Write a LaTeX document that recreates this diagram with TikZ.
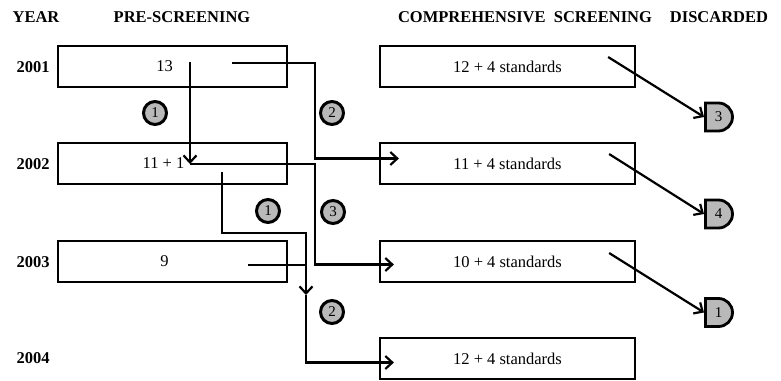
\documentclass[tikz,border=0pt]{standalone}
\usepackage{fontspec}
\setmainfont{Liberation Serif}
\usetikzlibrary{arrows.meta,shapes.misc,calc}
\begin{document}
\begin{tikzpicture}[x=1pt,y=-1pt,font=\fontsize{16.5}{19}\selectfont,
	box/.style={draw,line width=2.2pt,minimum width=229pt,minimum height=41pt,inner sep=0pt},
	cbox/.style={box,minimum width=255pt},
	head/.style={font=\fontsize{16.5}{19}\selectfont\bfseries},
	num/.style={circle,draw,line width=3pt,fill=gray!55,minimum size=23pt,inner sep=0pt,font=\fontsize{15}{15}\selectfont},
	bin/.style={rounded rectangle,rounded rectangle west arc=none,draw,line width=2.8pt,fill=gray!55,minimum width=27pt,minimum height=28pt,inner sep=0pt,font=\fontsize{15}{15}\selectfont},
	flow/.style={line width=2.2pt,-{Straight Barb[length=7pt,width=13pt]}},
	link/.style={line width=2.2pt}]
	\useasboundingbox (0,0) rectangle (781,380);
	% headings
	\node[head] (hy) at (36,17) {YEAR};
	\node[head] (hp) at (182,17) {PRE-SCREENING};
	\node[head] (hc) at (525,17) {COMPREHENSIVE\ \ SCREENING};
	\node[head] (hd) at (719,17) {DISCARDED};
	% years
	\node[head] (y1) at (33,67) {2001};
	\node[head] (y2) at (33,164) {2002};
	\node[head] (y3) at (33,262) {2003};
	\node[head] (y4) at (33,358) {2004};
	% pre-screening
	\node[box,label={[xshift=-8pt]center:13}] (p1) at (172.5,66.5) {};
	\node[box,label={[xshift=-9pt]center:11 + 1}] (p2) at (172.5,163.5) {};
	\node[box,label={[xshift=-8pt]center:9}] (p3) at (172.5,261.5) {};
	% comprehensive screening
	\node[cbox] (c1) at (507.5,66.5) {12 + 4 standards};
	\node[cbox] (c2) at (507.5,163.5) {11 + 4 standards};
	\node[cbox] (c3) at (507.5,261.5) {10 + 4 standards};
	\node[cbox] (c4) at (507.5,358.5) {12 + 4 standards};
	% discarded
	\node[bin] (d3) at (718.5,117) {3};
	\node[bin] (d4) at (718.5,214) {4};
	\node[bin] (d1) at (718.5,312.5) {1};
	% circled numbers
	\node[num] (n1a) at (155,113) {1};
	\node[num] (n2a) at (332,113) {2};
	\node[num] (n1b) at (268,211) {1};
	\node[num] (n3) at (333,212) {3};
	\node[num] (n2b) at (332,312) {2};
	% arrows
	\coordinate (s13) at ($(p1.center)+(17.5,-4.5)$);
	\coordinate (s13r) at ($(p1.center)+(59.5,-3.5)$);
	\coordinate (t11) at ($(p2.center)+(17.5,0.5)$);
	\coordinate (s11) at ($(p2.center)+(49.5,8.5)$);
	\coordinate (s9) at ($(p3.center)+(75.5,3.5)$);
	\coordinate (j3) at (306,295);
	\draw[flow] (s13) -- (t11);
	\draw[flow] (s13r) -- ++(83,0) |- ($(c2.west)+(20,-5)$);
	\draw[flow] (t11) -- ++(125,0) |- ($(c3.west)+(15,3)$);
	\draw[flow] (s11) |- (j3 |- 0,233) -- (j3);
	\draw[link] (s9) -- (s9 -| j3);
	\draw[flow] (j3) |- ($(c4.west)+(15,4)$);
	\draw[flow] ($(c1.east)+(-28,-9.5)$) -- (d3.west);
	\draw[flow] ($(c2.east)+(-27,-9.5)$) -- (d4.west);
	\draw[flow] ($(c3.east)+(-27,-8.5)$) -- (d1.west);
\end{tikzpicture}
\end{document}
